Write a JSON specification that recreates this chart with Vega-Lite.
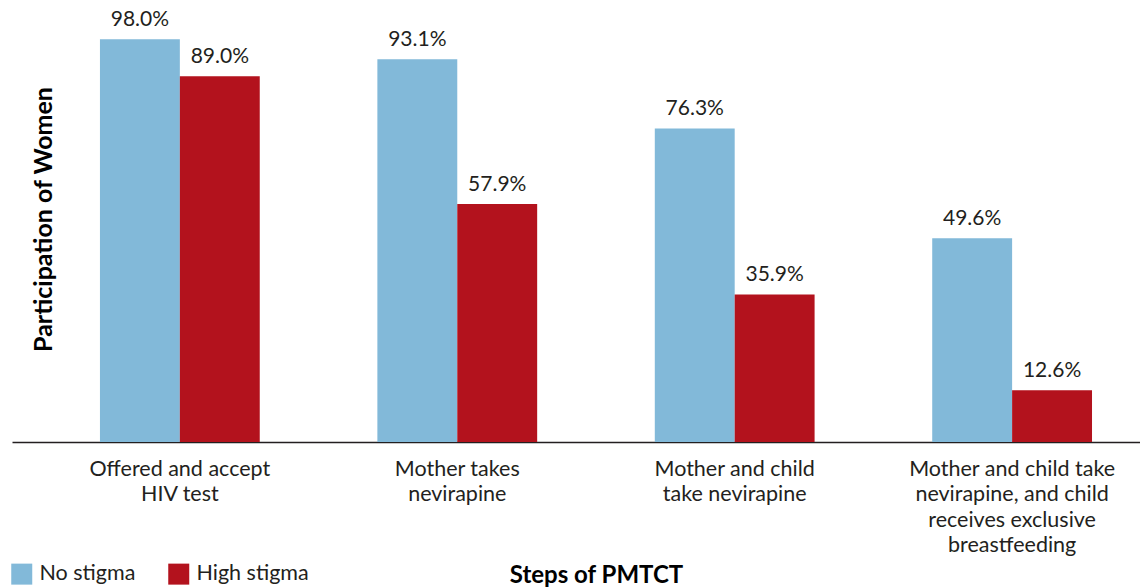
{
  "$schema": "https://vega.github.io/schema/vega-lite/v6.json",
  "width": 1128,
  "height": 411,
  "autosize": {"type": "none"},
  "padding": {"left": 12, "top": 31, "right": 0, "bottom": 146},
  "background": "white",
  "config": {"view": {"stroke": null}, "font": "Lato"},
  "data": {
    "values": [
      {"step": "Offered and accept HIV test", "group": "No stigma", "value": 0.980},
      {"step": "Offered and accept HIV test", "group": "High stigma", "value": 0.890},
      {"step": "Mother takes nevirapine", "group": "No stigma", "value": 0.931},
      {"step": "Mother takes nevirapine", "group": "High stigma", "value": 0.579},
      {"step": "Mother and child take nevirapine", "group": "No stigma", "value": 0.763},
      {"step": "Mother and child take nevirapine", "group": "High stigma", "value": 0.359},
      {"step": "Mother and child take nevirapine, and child receives exclusive breastfeeding", "group": "No stigma", "value": 0.496},
      {"step": "Mother and child take nevirapine, and child receives exclusive breastfeeding", "group": "High stigma", "value": 0.126}
    ]
  },
  "encoding": {
    "x": {
      "field": "step",
      "type": "nominal",
      "sort": null,
      "scale": {"paddingInner": 0.424, "paddingOuter": 0.245, "align": 0.647},
      "axis": {
        "domain": true,
        "domainColor": "#231f20",
        "domainWidth": 1.5,
        "ticks": false,
        "grid": false,
        "labelAngle": 0,
        "labelFontSize": 21.5,
        "labelColor": "#231f20",
        "labelPadding": 16,
        "labelBaseline": "top",
        "labelLineHeight": 25.5,
        "labelLimit": 400,
        "labelExpr": "datum.value == 'Offered and accept HIV test' ? ['Offered and accept', 'HIV test'] : datum.value == 'Mother takes nevirapine' ? ['Mother takes', 'nevirapine'] : datum.value == 'Mother and child take nevirapine' ? ['Mother and child', 'take nevirapine'] : ['Mother and child take', 'nevirapine, and child', 'receives exclusive', 'breastfeeding']",
        "title": "Steps of PMTCT",
        "titleFontSize": 24,
        "titleFontWeight": "bold",
        "titleColor": "#000000",
        "titleX": 584,
        "titleY": 133,
        "titleAlign": "center",
        "titleBaseline": "middle"
      }
    },
    "xOffset": {"field": "group", "type": "nominal", "sort": ["No stigma", "High stigma"], "scale": {"paddingInner": 0, "paddingOuter": 0}},
    "y": {
      "field": "value",
      "type": "quantitative",
      "scale": {"domain": [0, 1], "nice": false},
      "axis": {
        "domain": false,
        "ticks": false,
        "labels": false,
        "grid": false,
        "title": "Participation of Women",
        "titleFontSize": 25,
        "titleFontWeight": "bold",
        "titleColor": "#000000",
        "titleX": 31,
        "titleY": 188,
        "titleAngle": -90,
        "titleAlign": "center",
        "titleBaseline": "middle"
      }
    }
  },
  "layer": [
    {
      "mark": {"type": "bar"},
      "encoding": {
        "color": {
          "field": "group",
          "type": "nominal",
          "sort": ["No stigma", "High stigma"],
          "scale": {"domain": ["No stigma", "High stigma"], "range": ["#82b9d9", "#b3121d"]},
          "legend": {
            "title": null,
            "orient": "none",
            "direction": "horizontal",
            "legendX": -1,
            "legendY": 532,
            "symbolType": "square",
            "symbolSize": 441,
            "symbolStrokeWidth": 0,
            "symbolOpacity": 1,
            "labelFontSize": 21.5,
            "labelColor": "#231f20",
            "labelOffset": 7,
            "columnPadding": 32
          }
        }
      }
    },
    {
      "mark": {"type": "text", "baseline": "bottom", "dy": -9, "fontSize": 21, "color": "#231f20"},
      "encoding": {"text": {"field": "value", "type": "quantitative", "format": ".1%"}}
    }
  ]
}
